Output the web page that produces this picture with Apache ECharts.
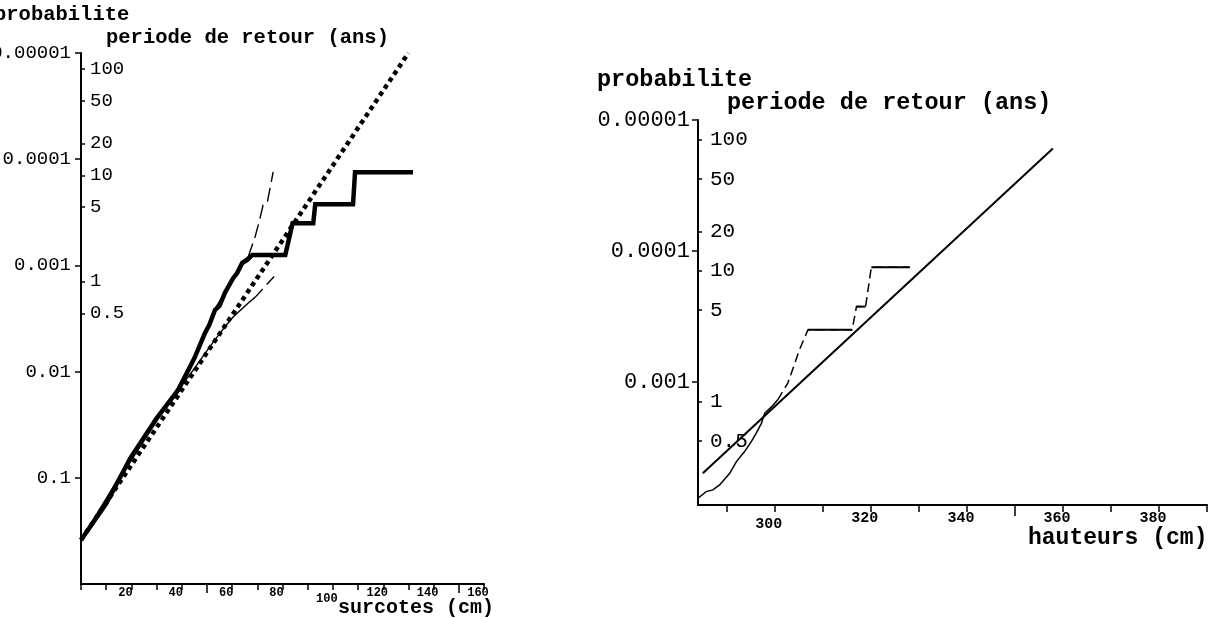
<!DOCTYPE html>
<html>
<head>
<meta charset="utf-8">
<script src="https://cdn.jsdelivr.net/npm/echarts@6/dist/echarts.min.js"></script>
<style>
  html, body { margin: 0; padding: 0; background: #ffffff; }
  #chart { width: 1220px; height: 618px; }
</style>
</head>
<body>
<div id="chart"></div>
<script>
// ---- Left panel: storm surges (cm) against exceedance probability ----
const surgeEmpirical = [
  [0, 0.385], [10, 0.175], [19.6, 0.0652], [30, 0.0275], [38.6, 0.0149],
  [45, 0.0075], [49.2, 0.00434], [51, 0.0036], [53.2, 0.00263], [55, 0.0024],
  [57.1, 0.00182], [60.4, 0.00132], [62, 0.00118], [64, 0.000948], [66, 0.000889],
  [68, 0.000798], [81.1, 0.000798], [84, 0.0004], [92.2, 0.0004], [93, 0.000266],
  [108, 0.000266], [108.8, 0.000133], [131.8, 0.000133]
];
const surgeFit = [[0, 0.385], [130, 0.00001]];
const surgeUpper = [
  [0, 0.385], [20, 0.064], [38, 0.0147], [47, 0.0058], [50, 0.0040], [53, 0.0026],
  [56, 0.0020], [59, 0.0015], [62, 0.00112], [64.5, 0.0009], [66.4, 0.00083]
];
const surgeUpperExt = [
  [66.4, 0.00083], [69.1, 0.00054], [70.7, 0.00039], [72.3, 0.00027],
  [73.9, 0.00026], [76.3, 0.000132]
];
const surgeLower = [
  [0, 0.385], [20, 0.068], [37.3, 0.0159], [42.6, 0.0112], [51.7, 0.0056],
  [57.1, 0.00378], [60.4, 0.00306], [66.4, 0.00226], [69.2, 0.00199]
];
const surgeLowerExt = [[69.2, 0.00199], [77.9, 0.00118]];

// ---- Right panel: water heights (cm) against exceedance probability ----
const heightObserved = [
  [284, 0.00773], [285.7, 0.00687], [287.1, 0.00667], [288.5, 0.00611],
  [290.6, 0.00498], [292, 0.00406], [293.7, 0.0034], [295.1, 0.00286],
  [296.1, 0.00247], [297.2, 0.00207], [297.9, 0.00173], [299.3, 0.00155],
  [300.6, 0.00137]
];
const heightTail = [
  [300.6, 0.00137], [302.7, 0.00102], [303.8, 0.000785], [305.1, 0.00057],
  [306.9, 0.0004], [316.1, 0.0004], [317, 0.000266], [318.9, 0.000266],
  [320.1, 0.000133], [328.1, 0.000133]
];
const heightPlateaus = [
  [[306.9, 0.0004], [316.1, 0.0004]],
  [[317, 0.000266], [318.9, 0.000266]],
  [[320.1, 0.000133], [328.1, 0.000133]]
];
const heightFit = [[285, 0.00498], [357.9, 0.0000165]];

// ---- Axis ticks ----
const probTicksLeft = [0.00001, 0.0001, 0.001, 0.01, 0.1];
const probTicksRight = [0.00001, 0.0001, 0.001];
const periodTicks = [0.5, 1, 5, 10, 20, 50, 100];
const surgeTicks = [0, 10, 20, 30, 40, 50, 60, 70, 80, 90, 100, 110, 120, 130, 140, 150, 160];
const surgeLabels = [20, 40, 60, 80, 100, 120, 140, 160];
const surgeLongTicks = [50, 150];
const heightTicks = [290, 300, 310, 320, 330, 340, 350, 360, 370, 380, 390];
const heightLabels = [300, 320, 340, 360, 380];
const heightLongTicks = [350];

// Two tides a day: return period (years) = 1 / (tides per year * probability)
const TIDES_PER_YEAR = 706;

const LEFT_PROB = [0.00001, 1];
const RIGHT_PROB = [0.00001, 0.0087];
const RIGHT_X = [284, 390];

const MONO = '"Liberation Mono", "DejaVu Sans Mono", monospace';
const INK = '#000000';

function probLabel(v) {
  const d = Math.round(-Math.log10(v));
  return v.toFixed(d);
}

function probAxis(grid, range, ticks, fontSize, margin) {
  return {
    type: 'log', logBase: 10, gridIndex: grid, inverse: true,
    min: range[0], max: range[1], position: 'left',
    axisLine: { show: true, lineStyle: { color: INK, width: 2 } },
    axisTick: { show: true, length: 6, customValues: ticks, lineStyle: { color: INK, width: 1.5 } },
    axisLabel: {
      customValues: ticks, formatter: probLabel, margin: margin,
      color: INK, fontFamily: MONO, fontSize: fontSize
    },
    splitLine: { show: false }
  };
}

function periodAxis(grid, range, fontSize, margin) {
  return {
    type: 'log', logBase: 10, gridIndex: grid, position: 'left', offset: 0,
    min: 1 / (TIDES_PER_YEAR * range[1]), max: 1 / (TIDES_PER_YEAR * range[0]),
    axisLine: { show: false },
    axisTick: { show: true, inside: true, length: 4, customValues: periodTicks, lineStyle: { color: INK, width: 1.5 } },
    axisLabel: {
      inside: true, customValues: periodTicks, formatter: v => String(v),
      margin: margin, color: INK, fontFamily: MONO, fontSize: fontSize,
      verticalAlign: 'middle', padding: [0, 0, 14, 0]
    },
    splitLine: { show: false }
  };
}

function lowLabel(lowValue) {
  return v => (v === lowValue ? '{lo|' + v + '}' : String(v));
}

function valueXAxis(grid, min, max, ticks, labels, lowValue, fontSize, margin, tickLen) {
  return {
    type: 'value', gridIndex: grid, min: min, max: max, position: 'bottom',
    axisLine: { show: true, onZero: false, lineStyle: { color: INK, width: 2 } },
    axisTick: { show: true, length: tickLen, customValues: ticks, lineStyle: { color: INK, width: 1.5 } },
    axisLabel: {
      customValues: labels, formatter: lowLabel(lowValue), margin: margin,
      color: INK, fontFamily: MONO, fontWeight: 'bold', fontSize: fontSize,
      padding: [0, 12, 0, 0],
      rich: { lo: { fontFamily: MONO, fontWeight: 'bold', fontSize: fontSize, color: INK, padding: [6, 0, 0, 0] } }
    },
    splitLine: { show: false }
  };
}

function longTickAxis(grid, min, max, ticks, len) {
  return {
    type: 'value', gridIndex: grid, min: min, max: max, position: 'bottom',
    axisLine: { show: false, onZero: false },
    axisTick: { show: true, length: len, customValues: ticks, lineStyle: { color: INK, width: 1.5 } },
    axisLabel: { show: false },
    splitLine: { show: false }
  };
}

function line(data, xi, yi, width, type, z) {
  return {
    type: 'line', data: data, xAxisIndex: xi, yAxisIndex: yi,
    symbol: 'none', silent: true, z: z, clip: false,
    lineStyle: { color: INK, width: width, type: type, cap: 'butt', join: 'miter' }
  };
}

const series = [
  line(surgeLower, 0, 0, 1.4, 'solid', 2),
  line(surgeLowerExt, 0, 0, 1.4, [11, 6], 2),
  line(surgeUpper, 0, 0, 1.4, 'solid', 2),
  line(surgeUpperExt, 0, 0, 1.4, [14, 6], 2),
  line(surgeFit, 0, 0, 4.5, [4.5, 4], 3),
  line(surgeEmpirical, 0, 0, 4.5, 'solid', 4),
  line(heightFit, 2, 2, 2, 'solid', 2),
  line(heightObserved, 2, 2, 1.5, 'solid', 3),
  line(heightTail, 2, 2, 1.5, [9, 5], 3)
].concat(heightPlateaus.map(seg => line(seg, 2, 2, 2, 'solid', 4)));

function title(text, x, y, size) {
  return {
    type: 'text', x: x, y: y, silent: true,
    style: {
      text: text, fill: INK, fontFamily: MONO, fontWeight: 'bold',
      fontSize: size, verticalAlign: 'middle', align: 'left'
    }
  };
}

const option = {
  backgroundColor: '#ffffff',
  animation: false,
  grid: [
    { left: 81, right: 736, top: 53, bottom: 34, containLabel: false, outerBoundsMode: 'none' },
    { left: 698, right: 13, top: 120, bottom: 113, containLabel: false, outerBoundsMode: 'none' }
  ],
  xAxis: [
    valueXAxis(0, 0, 160, surgeTicks, surgeLabels, 100, 12, 3, 6),
    longTickAxis(0, 0, 160, surgeLongTicks, 9),
    valueXAxis(1, RIGHT_X[0], RIGHT_X[1], heightTicks, heightLabels, 300, 15, 6, 7),
    longTickAxis(1, RIGHT_X[0], RIGHT_X[1], heightLongTicks, 11)
  ],
  yAxis: [
    probAxis(0, LEFT_PROB, probTicksLeft, 19, 10),
    periodAxis(0, LEFT_PROB, 19, 9),
    probAxis(1, RIGHT_PROB, probTicksRight, 22, 8),
    periodAxis(1, RIGHT_PROB, 21, 12)
  ],
  series: series,
  graphic: [
    title('probabilite', -6, 15, 20.5),
    title('periode de retour (ans)', 106, 38, 20.5),
    title('surcotes (cm)', 338, 608, 20),
    title('probabilite', 597, 80, 23.5),
    title('periode de retour (ans)', 727, 103, 23.5),
    title('hauteurs (cm)', 1028, 538, 23)
  ]
};

const chart = echarts.init(document.getElementById('chart'), null, { renderer: 'canvas' });
chart.setOption(option);
</script>
</body>
</html>
